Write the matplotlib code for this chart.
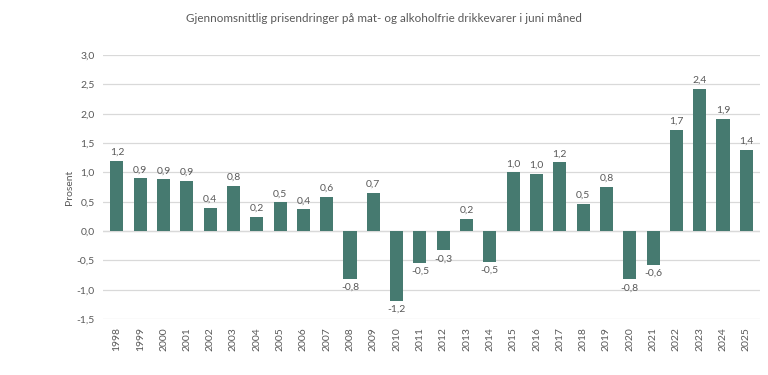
import matplotlib
matplotlib.use("Agg")
import matplotlib.pyplot as plt
import numpy as np

plt.rcParams['font.family'] = ['Lato', 'DejaVu Sans']

years = [str(y) for y in range(1998, 2026)]
values = [1.20, 0.90, 0.88, 0.86, 0.39, 0.77, 0.24, 0.49, 0.37, 0.59,
          -0.81, 0.65, -1.19, -0.54, -0.33, 0.21, -0.52, 1.00, 0.97, 1.17,
          0.47, 0.76, -0.82, -0.57, 1.72, 2.42, 1.91, 1.38]
yticks = [-1.5, -1.0, -0.5, 0.0, 0.5, 1.0, 1.5, 2.0, 2.5, 3.0]
title = "Gjennomsnittlig prisendringer på mat- og alkoholfrie drikkevarer i juni måned"

bar_color = "#467A70"
text_color = "#595959"

fig = plt.figure(figsize=(7.68, 3.75), dpi=100)
ax = fig.add_axes([0.134, 0.149, 0.856, 0.704])

x = np.arange(len(years))
ax.bar(x, values, width=0.56, color=bar_color, zorder=3)

for xi, v in zip(x, values):
    lbl = f"{v:.1f}".replace(".", ",")
    if v >= 0:
        ax.text(xi, v + 0.07, lbl, ha='center', va='bottom', fontsize=7.5, color=text_color)
    else:
        ax.text(xi, v - 0.07, lbl, ha='center', va='top', fontsize=7.5, color=text_color)

ax.set_ylim(-1.5, 3.0)
ax.set_xlim(-0.6, len(years) - 0.4)
ax.set_yticks(yticks)
ax.set_yticklabels([f"{t:.1f}".replace(".", ",") for t in yticks], fontsize=7.5, color=text_color)
ax.set_xticks(x)
ax.set_xticklabels(years, rotation=90, fontsize=7.5, color=text_color)
ax.tick_params(axis='both', length=0, pad=6)
ax.grid(axis='y', color='#D9D9D9', linewidth=0.9, zorder=0)
for s in ax.spines.values():
    s.set_visible(False)
ax.axhline(0, color='#D9D9D9', linewidth=0.9, zorder=1)

ax.set_ylabel("Prosent", fontsize=7.5, color=text_color, labelpad=2)
fig.text(0.5, 0.952, title, ha='center', va='center', fontsize=8.4, color=text_color)

fig.savefig("out.png", dpi=100)
